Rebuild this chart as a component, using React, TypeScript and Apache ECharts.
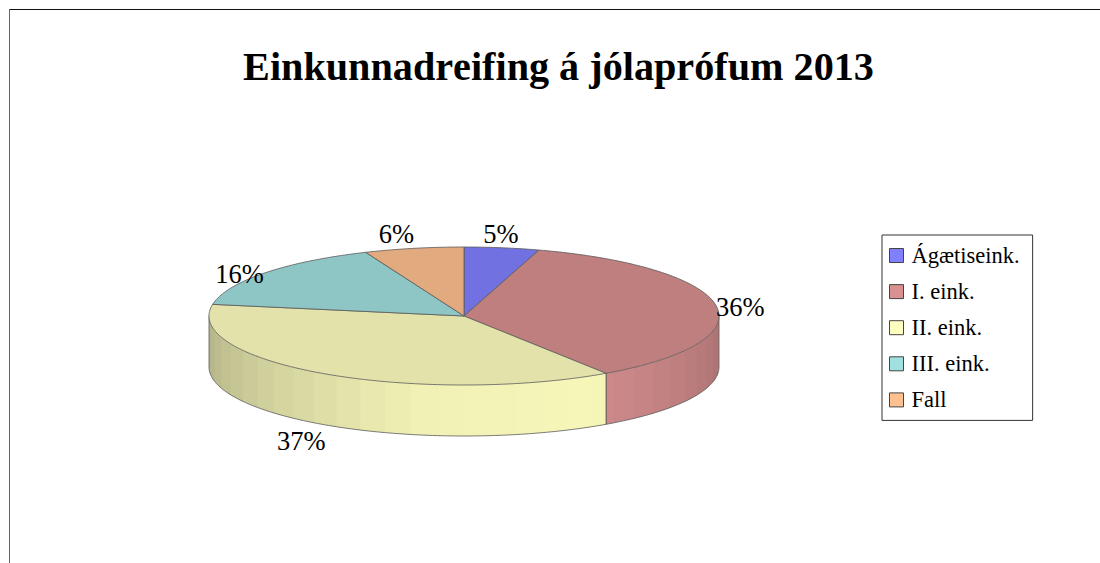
import React, { useEffect, useRef } from "react";
import * as echarts from "echarts";

const titleText = "Einkunnadreifing á jólaprófum 2013";
const categories = ["Ágætiseink.", "I. eink.", "II. eink.", "III. eink.", "Fall"];
const values = [4.75, 35.85, 37.1, 16, 6.3];
const baseColors = [
  [128, 128, 255],
  [216, 144, 144],
  [255, 255, 192],
  [160, 224, 224],
  [255, 192, 144],
];

const FONT = '"Liberation Serif", "Times New Roman", serif';
const CX = 464, CY = 316, RX = 255, RY = 69, DEPTH = 51;
const EDGE = "#5a5a5a";
const labelNudge = [[-1, -14], [24, 1], [-24, 67], [-25, 1], [-17.5, -14]];
const shadeStops = [[90, 0.78], [150, 0.965], [190, 0.945], [270, 0.69]];

const total = values.reduce((a, b) => a + b, 0);
const rad = (d: number) => (d * Math.PI) / 180;
const pt = (t: number, dy = 0): number[] => [CX + RX * Math.sin(rad(t)), CY - RY * Math.cos(rad(t)) + dy];
const css = (c: number[], k = 1) => `rgb(${c.map((v) => Math.round(v * k)).join(",")})`;
const shade = (t: number) => {
  for (let i = 1; i < shadeStops.length; i++) {
    const [a, av] = shadeStops[i - 1];
    const [b, bv] = shadeStops[i];
    if (t <= b) return av + ((bv - av) * (t - a)) / (b - a);
  }
  return shadeStops[shadeStops.length - 1][1];
};
const arc = (a: number, b: number, dy = 0) => {
  const pts: number[][] = [];
  const n = Math.max(2, Math.ceil(b - a));
  for (let i = 0; i <= n; i++) pts.push(pt(a + ((b - a) * i) / n, dy));
  return pts;
};

function sliceItem(index: number, value: number) {
  const before = values.slice(0, index).reduce((a, b) => a + b, 0);
  const a = (before / total) * 360;
  const b = a + (value / total) * 360;
  const color = baseColors[index];
  const children: any[] = [];

  const fa = Math.max(a, 90);
  const fb = Math.min(b, 270);
  if (fb > fa) {
    const STEP = 6;
    let s = fa;
    while (s < fb - 1e-6) {
      const e = Math.min(fb, (Math.floor(s / STEP) + 1) * STEP);
      const over = Math.min(fb, e + 1);
      const fill = css(color, shade((s + e) / 2));
      children.push({
        type: "polygon",
        shape: { points: [...arc(s, over), ...arc(s, over, DEPTH).reverse()] },
        style: { fill, stroke: "none" },
      });
      s = e;
    }
    children.push({
      type: "polyline",
      shape: { points: arc(fa, fb, DEPTH) },
      style: { fill: "none", stroke: EDGE, lineWidth: 0.8 },
    });
    [fa, fb].forEach((t) => {
      const p = pt(t);
      children.push({
        type: "line",
        shape: { x1: p[0], y1: p[1], x2: p[0], y2: p[1] + DEPTH },
        style: { stroke: EDGE, lineWidth: 0.8 },
      });
    });
  }

  children.push({
    type: "polygon",
    shape: { points: [[CX, CY], ...arc(a, b)] },
    style: { fill: css(color, 0.885), stroke: EDGE, lineWidth: 0.8 },
  });

  const mid = (a + b) / 2;
  const m = pt(mid);
  children.push({
    type: "text",
    z2: 100,
    style: {
      text: `${Math.round(value)}%`,
      x: m[0] + labelNudge[index][0],
      y: m[1] + labelNudge[index][1],
      align: "center",
      verticalAlign: "middle",
      font: `26.5px ${FONT}`,
      fill: "#000",
    },
  });
  return { type: "group", children };
}

export default function App() {
  const ref = useRef<HTMLDivElement>(null);
  useEffect(() => {
    document.body.style.margin = "0";
    const chart = echarts.init(ref.current!, undefined, { renderer: "svg" });
    chart.setOption({
      animation: false,
      backgroundColor: "#fff",
      title: {
        text: titleText,
        left: 553.5,
        top: 41.5,
        textAlign: "center",
        textStyle: { fontFamily: FONT, fontWeight: "bold", fontSize: 40.2, color: "#000" },
      },
      legend: {
        orient: "vertical",
        left: 882,
        top: 235,
        padding: [9, 13, 9, 7],
        itemWidth: 14,
        itemHeight: 14,
        itemGap: 13.1,
        backgroundColor: "#fff",
        borderColor: "#333",
        borderWidth: 1,
        selectedMode: false,
        data: categories.map((name, i) => ({
          name,
          icon: "rect",
          itemStyle: { color: css(baseColors[i]), borderColor: "#444", borderWidth: 1 },
        })),
        textStyle: { fontFamily: FONT, fontSize: 22.5, color: "#000", padding: [0, 0, 0, 3] },
      },
      graphic: [
        { type: "line", shape: { x1: 9, y1: 9.5, x2: 1100, y2: 9.5 }, style: { stroke: "#111", lineWidth: 1 } },
        { type: "line", shape: { x1: 9.5, y1: 9, x2: 9.5, y2: 563 }, style: { stroke: "#666", lineWidth: 1 } },
      ],
      series: categories.map((name, i) => ({
        type: "custom",
        name,
        coordinateSystem: "none",
        silent: true,
        itemStyle: { color: css(baseColors[i]) },
        data: [[values[i]]],
        renderItem: (_p: any, api: any) => sliceItem(i, api.value(0)),
      })),
    });
    return () => chart.dispose();
  }, []);
  return <div ref={ref} style={{ position: "fixed", left: 0, top: 0, width: 1100, height: 563, fontKerning: "none" }} />;
}
